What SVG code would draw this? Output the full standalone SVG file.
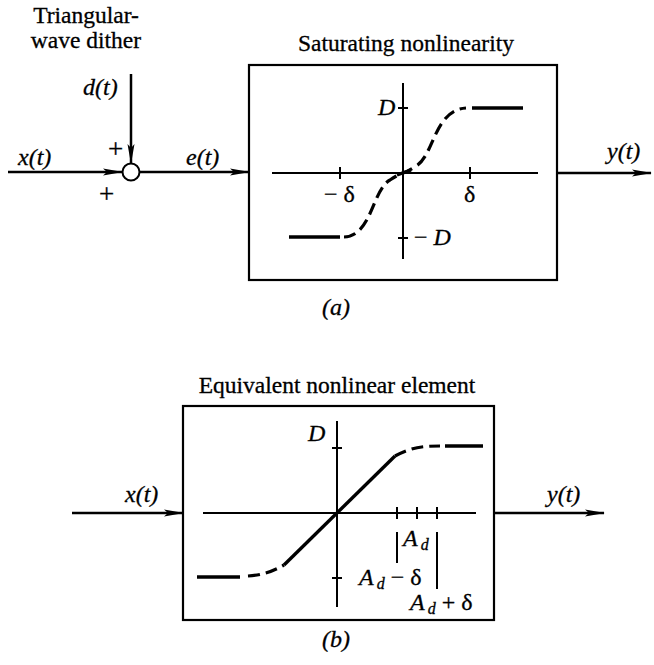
<svg xmlns="http://www.w3.org/2000/svg" width="654" height="665" viewBox="0 0 654 665">
<defs>
<style>
text{font-family:"Liberation Serif","Times New Roman",serif;fill:#000;stroke:#000;stroke-width:0.3}
.t{font-size:23.5px;text-anchor:middle}
.m{font-size:24px;font-style:italic}
.s{font-size:24px}
.p{font-size:27px}
.sub{font-size:16px}
.ln{stroke:#000;stroke-width:2.5;fill:none}
.ax{stroke:#000;stroke-width:2;fill:none}
.box{stroke:#000;stroke-width:2.2;fill:#fff}
.cv{stroke:#000;stroke-width:3.4;fill:none}
.dash{stroke:#000;stroke-width:3.2;fill:none;stroke-dasharray:12 6}
</style>
<marker id="ah" markerWidth="20" markerHeight="9" refX="19" refY="4.5" orient="auto" markerUnits="userSpaceOnUse">
<path d="M0,1 L20,4.5 L0,8 L4,4.5 Z" fill="#000"/>
</marker>
</defs>
<rect width="654" height="665" fill="#fff"/>

<g id="connectors">
<line class="ln" x1="8" y1="172" x2="122" y2="172" marker-end="url(#ah)"/>
<line class="ln" x1="131" y1="74" x2="131" y2="163" marker-end="url(#ah)"/>
<line class="ln" x1="140" y1="172" x2="249" y2="172" marker-end="url(#ah)"/>
<line class="ln" x1="557" y1="173" x2="651" y2="173" marker-end="url(#ah)"/>
<line class="ln" x1="72" y1="513" x2="183" y2="513" marker-end="url(#ah)"/>
<line class="ln" x1="494" y1="513" x2="604" y2="513" marker-end="url(#ah)"/>
</g>

<g id="labels">
<text class="t" x="86" y="23">Triangular-</text>
<text class="t" x="86" y="48">wave dither</text>
<text class="m" x="83" y="95">d(t)</text>
<text class="m" x="18" y="165">x(t)</text>
<text class="m" x="186" y="165">e(t)</text>
<text class="m" x="607" y="159">y(t)</text>
<text class="p" x="108" y="158">+</text>
<text class="p" x="99" y="203">+</text>
<text class="m" x="125" y="502">x(t)</text>
<text class="m" x="547" y="502">y(t)</text>
</g>

<g id="sum">
<circle cx="131" cy="172" r="8.5" fill="#fff" stroke="#000" stroke-width="2"/>
</g>

<g id="saturating">
<text class="t" x="406" y="51">Saturating nonlinearity</text>
<rect class="box" x="249" y="65" width="308" height="215"/>
<line class="ax" x1="272" y1="173" x2="538" y2="173"/>
<line class="ax" x1="403" y1="83" x2="403" y2="259"/>
<line class="ax" x1="398" y1="108" x2="408" y2="108"/>
<line class="ax" x1="398" y1="238" x2="408" y2="238"/>
<line class="ax" x1="340" y1="167" x2="340" y2="179"/>
<line class="ax" x1="470" y1="167" x2="470" y2="179"/>
<text class="m" x="378" y="115">D</text>
<text class="m" x="414" y="245"><tspan font-style="normal">−</tspan> D</text>
<text class="s" x="324" y="202">− δ</text>
<text class="s" x="464" y="202">δ</text>
<line class="cv" x1="289" y1="237" x2="340" y2="237"/>
<line class="cv" x1="472" y1="108" x2="523" y2="108"/>
<path class="dash" d="M344,237 C372,236 372,190 390,180 C396,176 400,174 403,173 C406,172 410,170 416,166 C434,156 434,110 466,108"/>
<line class="cv" x1="397" y1="175" x2="411" y2="170"/>
<text class="m" x="322" y="315">(a)</text>
</g>

<g id="equivalent">
<text class="t" x="337" y="393">Equivalent nonlinear element</text>
<rect class="box" x="183" y="406" width="311" height="214"/>
<line class="ax" x1="203" y1="513" x2="476" y2="513"/>
<line class="ax" x1="337" y1="421" x2="337" y2="607"/>
<line class="ax" x1="332" y1="448" x2="342" y2="448"/>
<line class="ax" x1="332" y1="578" x2="342" y2="578"/>
<line class="ax" x1="397" y1="507" x2="397" y2="519"/>
<line class="ax" x1="417" y1="507" x2="417" y2="519"/>
<line class="ax" x1="437" y1="507" x2="437" y2="519"/>
<line class="ax" x1="397" y1="532" x2="397" y2="563"/>
<line class="ax" x1="437" y1="532" x2="437" y2="589"/>
<text class="m" x="308" y="441">D</text>
<text class="m" x="403" y="546">A<tspan class="sub" dx="3" dy="4">d</tspan></text>
<text class="m" x="359" y="585">A<tspan class="sub" dx="3" dy="4">d</tspan><tspan font-style="normal" dy="-4"> − δ</tspan></text>
<text class="m" x="410" y="610">A<tspan class="sub" dx="3" dy="4">d</tspan><tspan font-style="normal" dy="-4"> + δ</tspan></text>
<line class="cv" x1="197" y1="577" x2="240" y2="577"/>
<line class="cv" x1="445" y1="446" x2="483" y2="446"/>
<line class="cv" x1="284" y1="565" x2="395" y2="456"/>
<path class="dash" d="M248,576 C262,575 272,572 284,565"/>
<path class="dash" d="M395,456 C410,448 420,446 440,446"/>
<text class="m" x="322" y="647">(b)</text>
</g>
</svg>
